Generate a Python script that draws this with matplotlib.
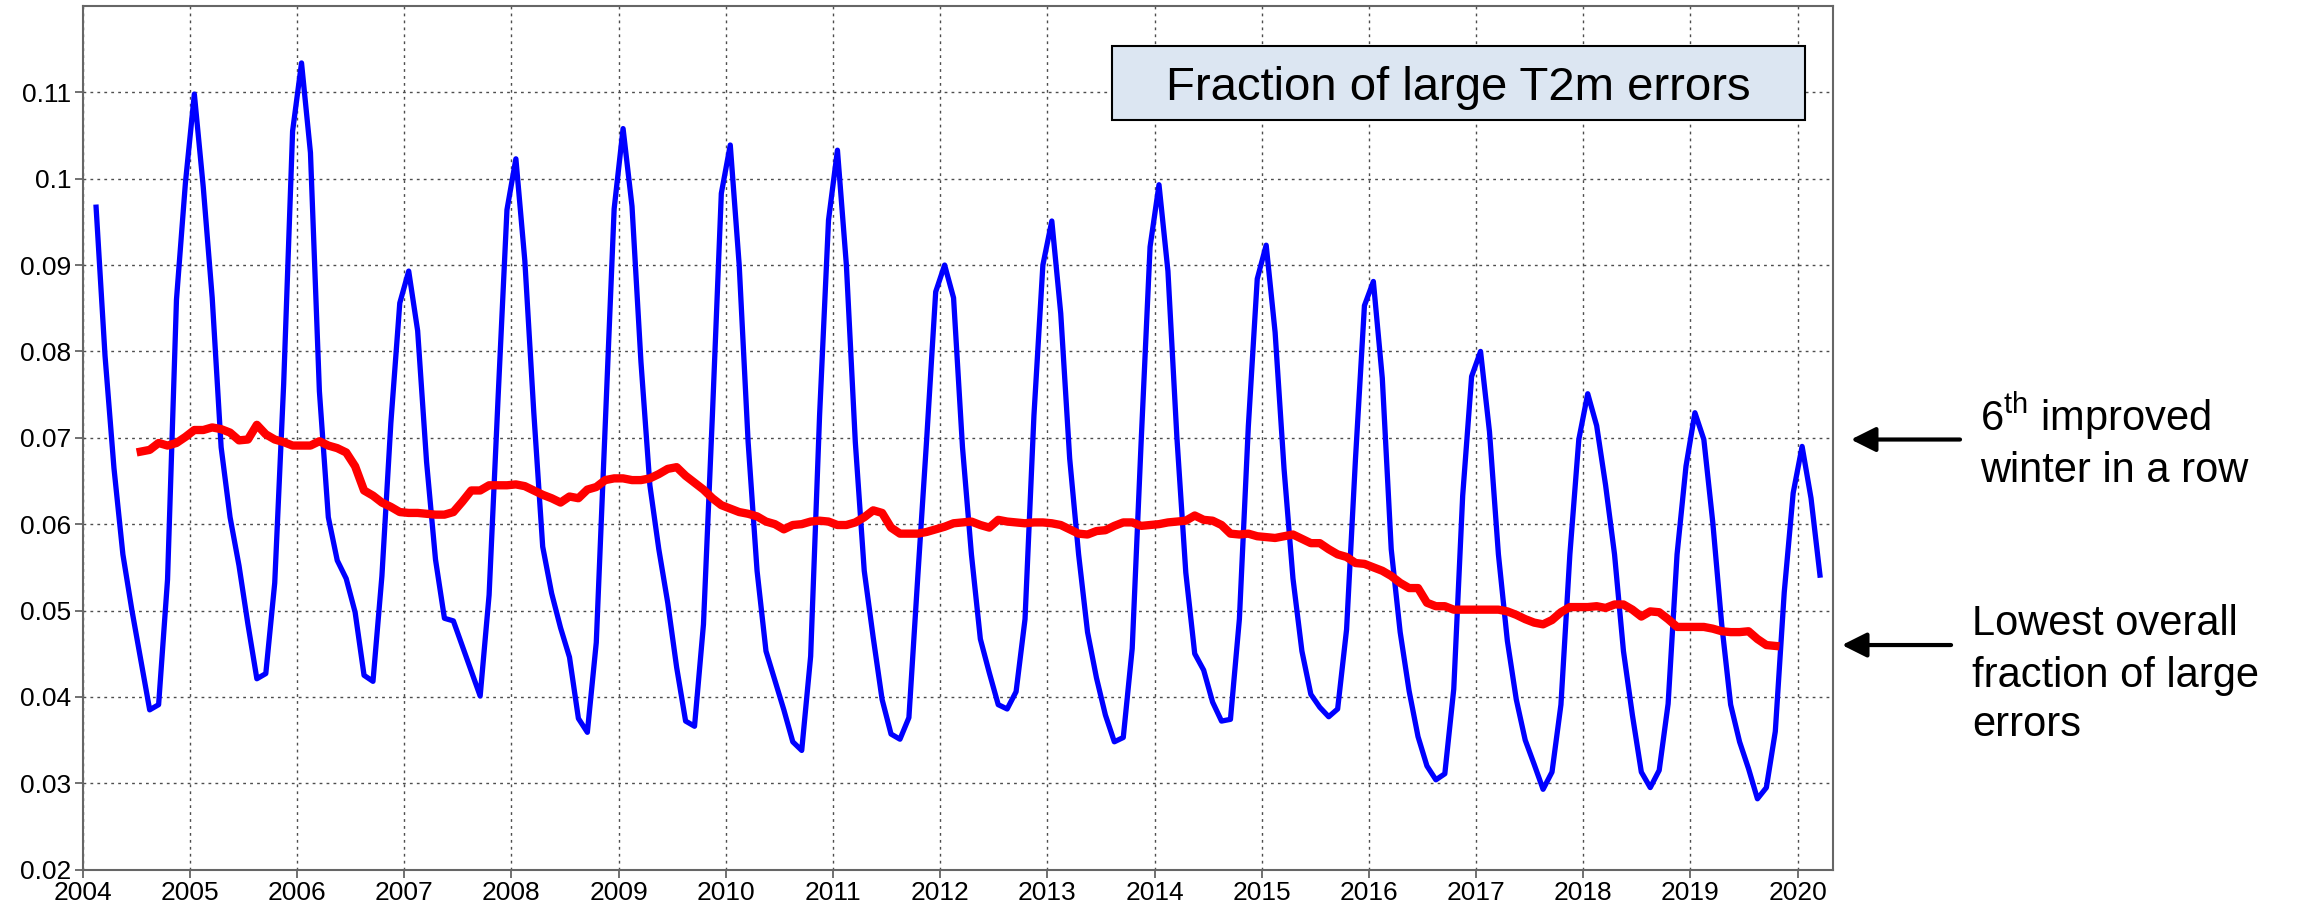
import numpy as np
import matplotlib
matplotlib.use("Agg")
import matplotlib.pyplot as plt
from matplotlib.patches import Rectangle, FancyArrowPatch
from matplotlib.ticker import FixedLocator, FixedFormatter

plt.rcParams['font.family'] = ['Liberation Sans', 'DejaVu Sans']

# monthly fraction of large T2m errors, Feb 2004 .. Mar 2020
blue_start = 2004 + 1 / 12.   # Feb 2004
blue_vals = [
    # 2004 Feb-Dec
    0.0967, 0.0795, 0.0665, 0.0565, 0.0501, 0.0443, 0.0385, 0.0391, 0.0536, 0.0860, 0.0995,
    # 2005
    0.1098, 0.0990, 0.0862, 0.0689, 0.0608, 0.0552, 0.0484, 0.0421, 0.0427, 0.0532, 0.0762, 0.1055,
    # 2006
    0.1134, 0.1030, 0.0754, 0.0608, 0.0558, 0.0537, 0.0498, 0.0425, 0.0418, 0.0540, 0.0717, 0.0856,
    # 2007
    0.0893, 0.0824, 0.0672, 0.0559, 0.0491, 0.0488, 0.0459, 0.0430, 0.0401, 0.0518, 0.0745, 0.0964,
    # 2008
    0.1023, 0.0905, 0.0730, 0.0574, 0.0520, 0.0480, 0.0446, 0.0375, 0.0359, 0.0463, 0.0713, 0.0965,
    # 2009
    0.1058, 0.0968, 0.0788, 0.0645, 0.0571, 0.0509, 0.0434, 0.0372, 0.0366, 0.0484, 0.0726, 0.0983,
    # 2010
    0.1039, 0.0900, 0.0695, 0.0546, 0.0453, 0.0419, 0.0385, 0.0348, 0.0338, 0.0447, 0.0726, 0.0952,
    # 2011
    0.1033, 0.0900, 0.0695, 0.0546, 0.0469, 0.0397, 0.0357, 0.0351, 0.0376, 0.0540, 0.0700, 0.0869,
    # 2012
    0.0900, 0.0862, 0.0689, 0.0565, 0.0467, 0.0428, 0.0391, 0.0386, 0.0406, 0.0490, 0.0726, 0.0900,
    # 2013
    0.0951, 0.0844, 0.0676, 0.0565, 0.0475, 0.0422, 0.0379, 0.0348, 0.0353, 0.0456, 0.0695, 0.0921,
    # 2014
    0.0993, 0.0893, 0.0701, 0.0544, 0.0450, 0.0431, 0.0394, 0.0372, 0.0374, 0.0490, 0.0713, 0.0884,
    # 2015
    0.0923, 0.0822, 0.0664, 0.0537, 0.0453, 0.0403, 0.0388, 0.0377, 0.0386, 0.0478, 0.0676, 0.0853,
    # 2016
    0.0881, 0.0769, 0.0571, 0.0475, 0.0407, 0.0354, 0.0320, 0.0304, 0.0311, 0.0409, 0.0633, 0.0771,
    # 2017
    0.0800, 0.0707, 0.0565, 0.0465, 0.0397, 0.0350, 0.0322, 0.0293, 0.0313, 0.0391, 0.0565, 0.0698,
    # 2018
    0.0751, 0.0714, 0.0645, 0.0565, 0.0453, 0.0379, 0.0313, 0.0295, 0.0315, 0.0392, 0.0565, 0.0667,
    # 2019
    0.0729, 0.0698, 0.0602, 0.0484, 0.0391, 0.0348, 0.0317, 0.0282, 0.0295, 0.0360, 0.0521, 0.0636,
    # 2020 Jan-Mar
    0.0690, 0.0630, 0.0541,
]

# 12-month running mean, Jul 2004 .. Oct 2019
red_start = 2004 + 6 / 12.    # Jul 2004
red_vals = [
    0.0684, 0.0686, 0.0694, 0.0691, 0.0694, 0.0701,
    0.0709, 0.0709, 0.0712, 0.0710, 0.0706, 0.0697, 0.0698, 0.0715, 0.0704, 0.0698, 0.0695, 0.0691,
    0.0691, 0.0691, 0.0696, 0.0691, 0.0688, 0.0683, 0.0667, 0.0639, 0.0633, 0.0625, 0.0620, 0.0614,
    0.0613, 0.0613, 0.0612, 0.0611, 0.0611, 0.0614, 0.0626, 0.0639, 0.0639, 0.0645, 0.0645, 0.0645,
    0.0646, 0.0644, 0.0639, 0.0634, 0.0630, 0.0625, 0.0632, 0.0630, 0.0640, 0.0643, 0.0651, 0.0653,
    0.0653, 0.0651, 0.0651, 0.0653, 0.0658, 0.0664, 0.0666, 0.0656, 0.0648, 0.0640, 0.0630, 0.0622,
    0.0618, 0.0614, 0.0612, 0.0609, 0.0603, 0.0600, 0.0594, 0.0599, 0.0600, 0.0603, 0.0604, 0.0603,
    0.0599, 0.0599, 0.0602, 0.0608, 0.0616, 0.0613, 0.0596, 0.0589, 0.0589, 0.0589, 0.0591, 0.0594,
    0.0597, 0.0601, 0.0602, 0.0603, 0.0599, 0.0596, 0.0605, 0.0603, 0.0602, 0.0601, 0.0602, 0.0602,
    0.0601, 0.0599, 0.0594, 0.0589, 0.0588, 0.0592, 0.0593, 0.0598, 0.0602, 0.0602, 0.0598, 0.0599,
    0.0600, 0.0602, 0.0603, 0.0604, 0.0610, 0.0605, 0.0604, 0.0599, 0.0589, 0.0588, 0.0589, 0.0586,
    0.0585, 0.0584, 0.0586, 0.0588, 0.0583, 0.0578, 0.0578, 0.0571, 0.0565, 0.0562, 0.0555, 0.0554,
    0.0550, 0.0546, 0.0540, 0.0532, 0.0526, 0.0526, 0.0509, 0.0505, 0.0505, 0.0501, 0.0501, 0.0501,
    0.0501, 0.0501, 0.0501, 0.0499, 0.0495, 0.0490, 0.0486, 0.0484, 0.0489, 0.0498, 0.0504, 0.0504,
    0.0504, 0.0505, 0.0503, 0.0507, 0.0507, 0.0501, 0.0493, 0.0499, 0.0498, 0.0490, 0.0481, 0.0481,
    0.0481, 0.0481, 0.0479, 0.0476, 0.0475, 0.0475, 0.0476, 0.0467, 0.0460, 0.0459,
]

years = list(range(2004, 2021))
yticks = [0.02, 0.03, 0.04, 0.05, 0.06, 0.07, 0.08, 0.09, 0.1, 0.11]
ytick_labels = ["0.02", "0.03", "0.04", "0.05", "0.06", "0.07", "0.08", "0.09", "0.1", "0.11"]

# month centres as decimal years
bx = blue_start + (np.arange(len(blue_vals)) + 0.5) / 12.
rx = red_start + (np.arange(len(red_vals)) + 0.5) / 12.

fig = plt.figure(figsize=(22.97, 9.13), dpi=100)
ax = fig.add_axes([0.036, 0.0475, 0.762, 0.946])

ax.plot(bx, blue_vals, color='#0000ff', lw=3.8, zorder=3)
ax.plot(rx, red_vals, color='#ff0000', lw=6, zorder=4)

ax.set_xlim(2004, 2020.33)
ax.set_ylim(0.02, 0.12)
ax.xaxis.set_major_locator(FixedLocator(years))
ax.set_xticklabels([str(y) for y in years])
ax.yaxis.set_major_locator(FixedLocator(yticks))
ax.yaxis.set_major_formatter(FixedFormatter(ytick_labels))
ax.tick_params(labelsize=19, direction='out', length=6, width=1.2, color='0.35', pad=2)

ax.grid(True, color='0.3', linestyle=(0, (2, 3)), linewidth=1.0)
for s in ax.spines.values():
    s.set_color('0.4')
    s.set_linewidth(1.5)

# title box
ax.add_patch(Rectangle((0.588, 0.868), 0.396, 0.0857, transform=ax.transAxes,
                       facecolor='#dce6f2', edgecolor='black', lw=1.5, zorder=5))
ax.text(0.786, 0.8912, "Fraction of large T2m errors", transform=ax.transAxes,
        fontsize=34, ha='center', va='baseline', zorder=6)

# annotations at the right
fig.text(0.862, 0.528, r"6$^{\mathregular{th}}$ improved", fontsize=30, ha='left', va='baseline')
fig.text(0.862, 0.472, "winter in a row", fontsize=30, ha='left', va='baseline')
fig.text(0.8585, 0.305, "Lowest overall", fontsize=30, ha='left', va='baseline')
fig.text(0.8585, 0.2475, "fraction of large", fontsize=30, ha='left', va='baseline')
fig.text(0.8585, 0.194, "errors", fontsize=30, ha='left', va='baseline')

for (x0, x1, y) in [(0.8533, 0.8058, 0.5186), (0.8494, 0.8019, 0.2935)]:
    fig.add_artist(FancyArrowPatch((x0, y), (x1, y), transform=fig.transFigure,
                                   arrowstyle='-|>,head_length=0.5,head_width=0.25',
                                   mutation_scale=30, color='black', lw=3,
                                   shrinkA=0, shrinkB=0))

plt.savefig("out.png", dpi=100)
